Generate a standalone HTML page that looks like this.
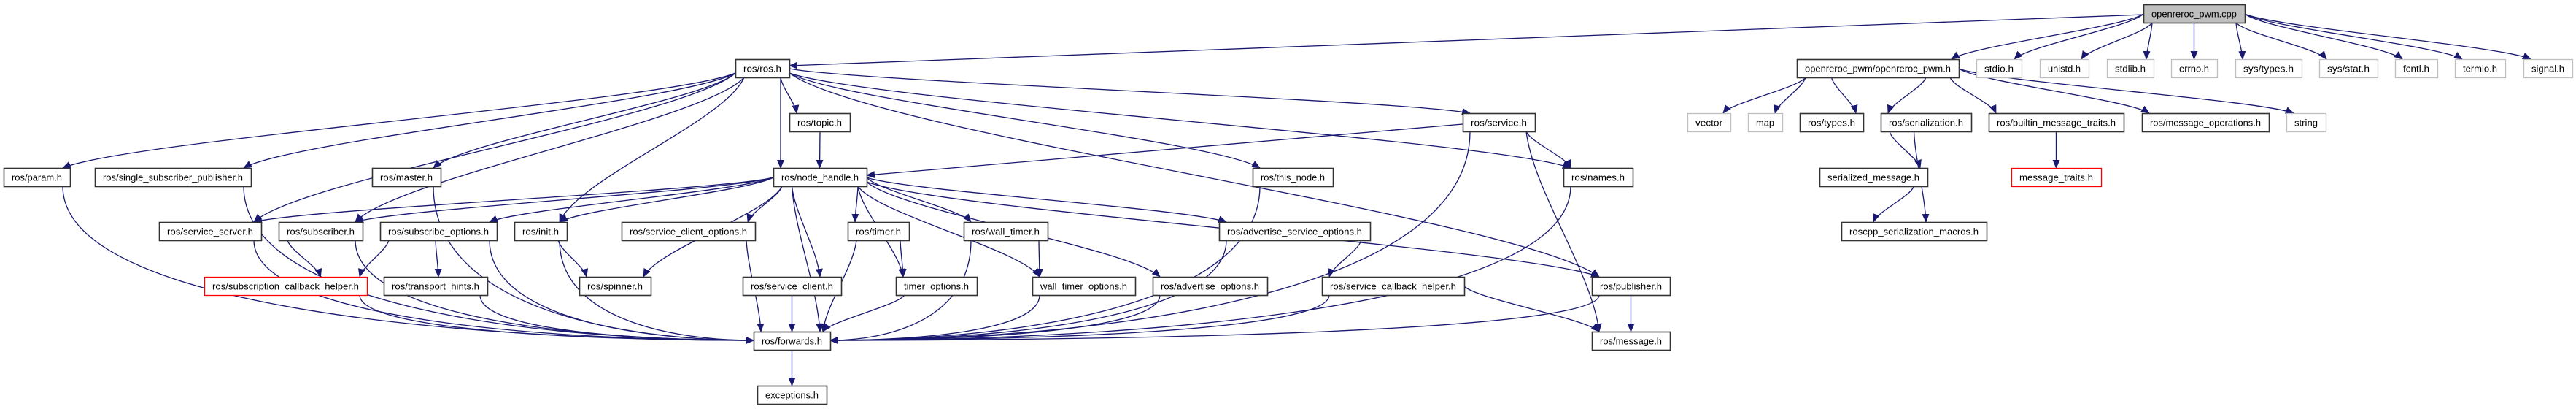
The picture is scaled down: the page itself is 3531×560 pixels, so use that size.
<!DOCTYPE html>
<html><head><meta charset="utf-8"><style>
html,body{margin:0;padding:0;background:#fff;}
svg{display:block;}
text{font-family:"Liberation Sans",sans-serif;font-size:13px;}
</style></head><body>
<svg id="g" width="3531" height="560" xmlns="http://www.w3.org/2000/svg">
<defs><marker id="a" markerWidth="12" markerHeight="10" refX="11" refY="5" orient="auto" markerUnits="userSpaceOnUse"><path d="M0,0 L12,5 L0,10 z" fill="#191970"/></marker></defs>
<g id="e" fill="none" stroke="#191970" stroke-width="1.3"></g>
<g id="n"></g>
</svg>
<script>
var R=[6,81,155,230,304,379,454,528];
var N={
cpp:[2938,3077,0,"openreroc_pwm.cpp","c"],
ros:[1008,1082,1,"ros/ros.h"],
pwmh:[2463,2685,1,"openreroc_pwm/openreroc_pwm.h"],
stdio:[2709,2771,1,"stdio.h","g"],unistd:[2796,2863,1,"unistd.h","g"],stdlib:[2888,2952,1,"stdlib.h","g"],errno:[2976,3039,1,"errno.h","g"],systypes:[3064,3155,1,"sys/types.h","g"],sysstat:[3179,3259,1,"sys/stat.h","g"],fcntl:[3283,3341,1,"fcntl.h","g"],termio:[3365,3434,1,"termio.h","g"],signal:[3459,3526,1,"signal.h","g"],
topic:[1082,1165,2,"ros/topic.h"],service:[2005,2104,2,"ros/service.h"],vector:[2313,2372,2,"vector","g"],map:[2396,2443,2,"map","g"],types:[2467,2554,2,"ros/types.h"],ser:[2578,2702,2,"ros/serialization.h"],builtin:[2726,2911,2,"ros/builtin_message_traits.h"],msgops:[2936,3110,2,"ros/message_operations.h"],string:[3134,3188,2,"string","g"],
param:[5,96,3,"ros/param.h"],ssp:[130,344,3,"ros/single_subscriber_publisher.h"],master:[510,604,3,"ros/master.h"],nh:[1060,1188,3,"ros/node_handle.h"],thisnode:[1717,1827,3,"ros/this_node.h"],names:[2143,2238,3,"ros/names.h"],sermsg:[2494,2642,3,"serialized_message.h"],mtraits:[2757,2880,3,"message_traits.h","r"],
ssrv:[218,358,4,"ros/service_server.h"],sub:[382,497,4,"ros/subscriber.h"],subopt:[521,681,4,"ros/subscribe_options.h"],init:[705,777,4,"ros/init.h"],sco:[852,1035,4,"ros/service_client_options.h"],timer:[1162,1246,4,"ros/timer.h"],wtimer:[1321,1436,4,"ros/wall_timer.h"],aso:[1671,1878,4,"ros/advertise_service_options.h"],macros:[2524,2723,4,"roscpp_serialization_macros.h"],
sch:[280,503,5,"ros/subscription_callback_helper.h","r"],thints:[526,668,5,"ros/transport_hints.h"],spinner:[794,892,5,"ros/spinner.h"],sc:[1018,1153,5,"ros/service_client.h"],topt:[1228,1339,5,"timer_options.h"],wtopt:[1415,1556,5,"wall_timer_options.h"],ao:[1580,1737,5,"ros/advertise_options.h"],svch:[1812,2007,5,"ros/service_callback_helper.h"],pub:[2182,2289,5,"ros/publisher.h"],
fwd:[1033,1138,6,"ros/forwards.h"],msg:[2182,2289,6,"ros/message.h"],
exc:[1038,1133,7,"exceptions.h"]
};
var E=[["cpp","pwmh"],["cpp","stdio"],["cpp","unistd"],["cpp","stdlib"],["cpp","errno"],["cpp","systypes"],["cpp","sysstat"],["cpp","fcntl"],["cpp","termio"],["cpp","signal"],
["pwmh","vector"],["pwmh","map"],["pwmh","types"],["pwmh","ser"],["pwmh","builtin"],["pwmh","msgops"],["pwmh","string"],
["ser","sermsg"],["ser","macros"],["sermsg","macros"],["builtin","mtraits"],
["ros","param"],["ros","ssp"],["ros","master"],["ros","ssrv"],["ros","sub"],["ros","init"],["ros","topic"],["ros","nh"],["ros","service"],["ros","thisnode"],["ros","names"],["ros","pub"],
["topic","nh"],["service","names"],["service","fwd"],["service","msg"],
["nh","ssrv"],["nh","sub"],["nh","subopt"],["nh","init"],["nh","spinner"],["nh","sco"],["nh","fwd"],["nh","sc"],["nh","timer"],["nh","topt"],["nh","wtimer"],["nh","wtopt"],["nh","aso"],["nh","ao"],["nh","pub"],
["param","fwd"],["ssp","fwd"],["master","fwd"],["ssrv","fwd"],["sub","sch"],["sub","fwd"],["subopt","sch"],["subopt","thints"],["subopt","fwd"],["init","spinner"],["init","fwd"],["sch","fwd"],["thints","fwd"],["sco","fwd"],["sc","fwd"],["timer","topt"],["timer","fwd"],["topt","fwd"],["wtimer","wtopt"],["wtimer","fwd"],["wtopt","fwd"],["ao","fwd"],["aso","svch"],["aso","fwd"],["svch","fwd"],["svch","msg"],["thisnode","fwd"],["names","fwd"],["pub","fwd"],["pub","msg"],["fwd","exc"]];
var ns="http://www.w3.org/2000/svg",eg=document.getElementById("e"),ng=document.getElementById("n");
function el(t,a,p){var e=document.createElementNS(ns,t);for(var k in a)e.setAttribute(k,a[k]);p.appendChild(e);return e;}
function cx(n){return (n[0]+n[1])/2;}
function cl(v,a,b){return Math.max(a,Math.min(b,v));}
E.forEach(function(p){var s=N[p[0]],t=N[p[1]],d;
 var scx=cx(s),tcx=cx(t);
 var sy=R[s[2]]+25,ty=R[t[2]];
 if(p[1]=="fwd"&&(scx<900||scx>1300)){
   var sx=cl(1085,s[0]+10,s[1]-10);
   var tx,tyy=466;
   if(scx<1033){tx=1033;}else{tx=1138;}
   d="M"+sx+","+sy+" C"+sx+","+(sy+(tyy-sy)*0.8)+" "+(tx+(sx-tx)*0.4)+","+tyy+" "+tx+","+tyy;
 } else {
   var sx=cl(tcx,s[0]+12,s[1]-12),tx=cl(scx,t[0]+10,t[1]-10);
   var dx=tx-sx,dy=ty-sy;
   if(Math.abs(dx)>3*dy){
     sy=R[s[2]]+13+ (dy>60?6:0);
     sx=dx<0?s[0]:s[1];
     dy=ty-sy;
   }
   d="M"+sx+","+sy+" C"+(sx+dx*0.1)+","+(sy+dy*0.3)+" "+(tx-dx*0.1)+","+(ty-dy*0.3)+" "+tx+","+ty;
 }
 el("path",{d:d,"marker-end":"url(#a)"},eg);
});
el("path",{d:"M2938,20 L1082,90","marker-end":"url(#a)"},eg);
el("path",{d:"M2005,170 L1188,240","marker-end":"url(#a)"},eg);
for(var k in N){var n=N[k],y=R[n[2]],w=n[1]-n[0];
 var st=n[4]=="g"?"#bfbfbf":n[4]=="r"?"#ff0000":"#333";
 el("rect",{x:n[0]+0.5,y:y+0.5,width:w,height:25,fill:n[4]=="c"?"#bfbfbf":"#fff",stroke:st,"stroke-width":n[4]=="g"||n[4]=="r"?1.3:1.6},ng);
 var t=el("text",{x:cx(n),y:y+17.5,"text-anchor":"middle",fill:"#000",textLength:Math.max(10,w-22),lengthAdjust:"spacingAndGlyphs"},ng);
 t.textContent=n[3];}
</script>
</body></html>
